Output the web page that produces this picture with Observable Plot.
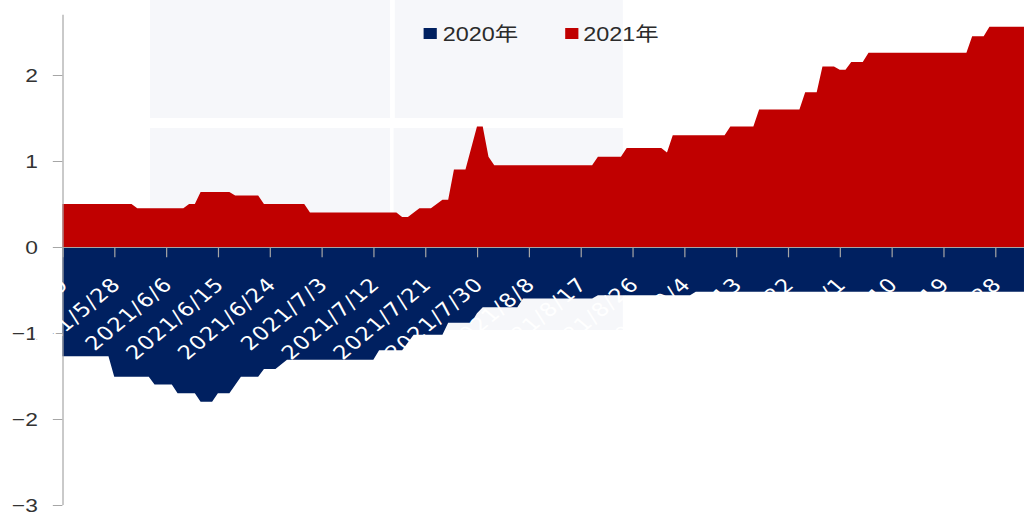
<!DOCTYPE html>
<html>
<head>
<meta charset="utf-8">
<script src="https://cdn.jsdelivr.net/npm/d3@7"></script>
<script src="https://cdn.jsdelivr.net/npm/@observablehq/plot@0.6"></script>
<style>
  html, body { margin: 0; padding: 0; background: #fff; overflow: hidden; }
  #wrap { position: relative; width: 853.33px; height: 515px; transform: scaleX(1.2); transform-origin: 0 0; overflow: visible; }
  .box { position: absolute; background: #f6f7fa; }
  #chart { position: absolute; left: 0; top: 0; }
  .sw { position: absolute; width: 11px; height: 11px; top: 28px; }
  .lt { position: absolute; top: 24.5px; font-size: 19.5px; line-height: 1; color: #2b2b2b; font-family: "Liberation Sans", Arial, "Noto Sans CJK SC", sans-serif; white-space: nowrap; }
</style>
</head>
<body>
<div id="wrap">
  <div class="box" style="left:125px;top:0;width:200px;height:118px"></div>
  <div class="box" style="left:329px;top:0;width:190px;height:118px"></div>
  <div class="box" style="left:125px;top:128px;width:200px;height:122px"></div>
  <div class="box" style="left:328px;top:128px;width:191px;height:202px"></div>
  <div id="chart"></div>
  <div class="sw" style="left:353px;background:#002060"></div>
  <div class="lt" style="left:369px">2020年</div>
  <div class="sw" style="left:471px;background:#C00000"></div>
  <div class="lt" style="left:486px">2021年</div>
</div>
<script>
// 2021年 series (positive area)
const red_dates = ["2021-05-19","2021-05-31","2021-06-01","2021-06-09","2021-06-10","2021-06-11","2021-06-12","2021-06-17","2021-06-18","2021-06-22","2021-06-23","2021-06-30","2021-07-01","2021-07-16","2021-07-17","2021-07-18","2021-07-20","2021-07-22","2021-07-24","2021-07-25","2021-07-26","2021-07-28","2021-07-30","2021-07-31","2021-08-01","2021-08-02","2021-08-19","2021-08-20","2021-08-24","2021-08-25","2021-08-31","2021-09-01","2021-09-02","2021-09-11","2021-09-12","2021-09-16","2021-09-17","2021-09-24","2021-09-25","2021-09-27","2021-09-28","2021-09-30","2021-10-01","2021-10-02","2021-10-03","2021-10-05","2021-10-06","2021-10-23","2021-10-24","2021-10-26","2021-10-27","2021-11-02"];
const red_values = [0.5,0.5,0.45,0.45,0.5,0.5,0.64,0.64,0.6,0.6,0.5,0.5,0.4,0.4,0.35,0.35,0.45,0.45,0.55,0.55,0.9,0.9,1.4,1.4,1.05,0.95,0.95,1.05,1.05,1.15,1.15,1.1,1.3,1.3,1.4,1.4,1.6,1.6,1.8,1.8,2.1,2.1,2.06,2.06,2.15,2.15,2.26,2.26,2.45,2.45,2.56,2.56];

// 2020年 series (negative area)
const navy_dates = ["2021-05-19","2021-05-27","2021-05-28","2021-06-03","2021-06-04","2021-06-07","2021-06-08","2021-06-11","2021-06-12","2021-06-14","2021-06-15","2021-06-17","2021-06-19","2021-06-22","2021-06-23","2021-06-25","2021-06-27","2021-07-12","2021-07-13","2021-07-17","2021-07-19","2021-07-24","2021-07-25","2021-07-29","2021-07-30","2021-07-31","2021-08-06","2021-08-07","2021-08-19","2021-08-20","2021-09-05","2021-09-06","2021-11-02"];
const navy_values = [-1.27,-1.27,-1.51,-1.51,-1.6,-1.6,-1.7,-1.7,-1.8,-1.8,-1.7,-1.7,-1.51,-1.51,-1.42,-1.42,-1.31,-1.31,-1.2,-1.2,-1.02,-1.02,-0.88,-0.88,-0.77,-0.7,-0.7,-0.6,-0.6,-0.56,-0.56,-0.52,-0.52];

const tick_labels = ["2021/5/19","2021/5/28","2021/6/6","2021/6/15","2021/6/24","2021/7/3","2021/7/12","2021/7/21","2021/7/30","2021/8/8","2021/8/17","2021/8/26","2021/9/4","2021/9/13","2021/9/22","2021/10/1","2021/10/10","2021/10/19","2021/10/28"];
const y_ticks = [-3,-2,-1,0,1,2];
const x_range = ["2021-05-19","2021-11-02"];
const y_range = [-3, 2.7];

const parse = d3.utcParse("%Y-%m-%d");
const parseLabel = d3.utcParse("%Y/%m/%d");
const red = red_dates.map((d, i) => ({date: parse(d), value: red_values[i]}));
const navy = navy_dates.map((d, i) => ({date: parse(d), value: navy_values[i]}));
const ticks = tick_labels.map(s => ({date: parseLabel(s), label: s}));

const chart = Plot.plot({
  width: 1024 / 1.2,
  height: 515,
  marginLeft: 52,
  marginRight: 0,
  marginTop: 14.8,
  marginBottom: 10,
  style: {background: "transparent", fontFamily: "Liberation Sans, Arial, sans-serif", overflow: "visible"},
  x: {type: "utc", domain: x_range.map(parse), axis: null},
  y: {domain: y_range, axis: null},
  marks: [
    Plot.areaY(navy, {x: "date", y: "value", fill: "#002060"}),
    Plot.areaY(red, {x: "date", y: "value", fill: "#C00000"}),
    Plot.ruleX([parse(x_range[0])], {stroke: "#a6a6a6"}),
    Plot.axisY({ticks: y_ticks, label: null, tickSize: 8, tickPadding: 13, fontSize: 19, stroke: "#a6a6a6", fill: "#333", tickFormat: d => d < 0 ? "−" + Math.abs(d) : String(d)}),
    Plot.ruleY([0], {stroke: "#a6a6a6"}),
    Plot.ruleX(ticks, {x: "date", y1: 0, y2: -0.12, stroke: "#a6a6a6"}),
    Plot.text(ticks, {x: "date", y: 0, text: "label", rotate: -45, textAnchor: "end", lineAnchor: "bottom", dx: 6, dy: 38, fill: "white", fontSize: 19, fontFamily: "DejaVu Sans"})
  ]
});
d3.select(chart).selectAll('g[aria-label="text"] text').style("letter-spacing", "1px");
document.getElementById("chart").appendChild(chart);
</script>
</body>
</html>
